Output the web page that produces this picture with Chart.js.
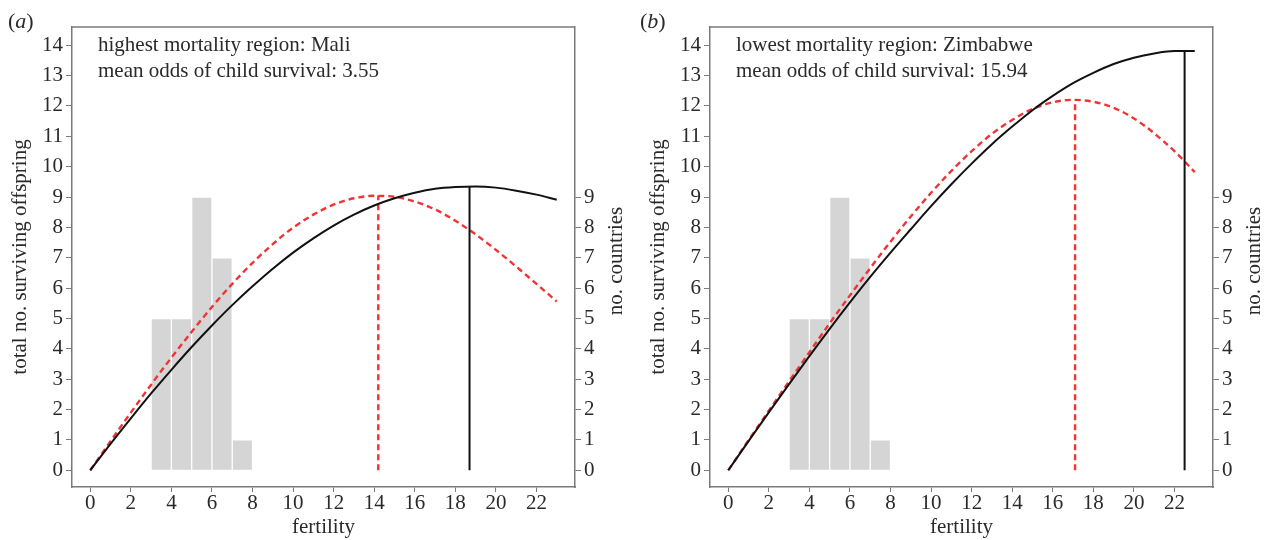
<!DOCTYPE html>
<html>
<head>
<meta charset="utf-8">
<script src="https://cdn.jsdelivr.net/npm/chart.js@4.4.1/dist/chart.umd.min.js"></script>
<style>
  html, body { margin: 0; padding: 0; background: #fff; }
  body { width: 1265px; height: 540px; position: relative; overflow: hidden; }
  .panel { position: absolute; top: 0; width: 627px; height: 540px; }
  #panelA { left: 0; }
  #panelB { left: 638px; }
</style>
</head>
<body>
<div class="panel" id="panelA"><canvas id="chartA"></canvas></div>
<div class="panel" id="panelB"><canvas id="chartB"></canvas></div>
<script>
// fertility grid shared by every curve
const fertility = [0, 1, 2, 3, 4, 5, 6, 7, 8, 9, 10, 11, 12, 13, 14, 15, 16, 17, 18, 19, 20, 21, 22, 23];

// (a) Mali - solid black and dashed red curves
const maliSolid = [0, 0.87, 1.71, 2.53, 3.31, 4.06, 4.77, 5.44, 6.06, 6.64, 7.17, 7.64, 8.06, 8.42, 8.72, 8.96, 9.14, 9.27, 9.33, 9.35, 9.31, 9.21, 9.08, 8.91];
const maliDashed = [0, 0.96, 1.90, 2.82, 3.71, 4.56, 5.38, 6.14, 6.83, 7.45, 7.99, 8.42, 8.75, 8.96, 9.04, 9.01, 8.85, 8.59, 8.22, 7.77, 7.26, 6.71, 6.14, 5.56];
const maliOptFertility = [18.7, 14.2];   // solid, dashed
const maliOptOffspring = [9.35, 9.05];

// (b) Zimbabwe
const zimSolid = [0, 0.96, 1.91, 2.84, 3.76, 4.66, 5.53, 6.37, 7.17, 7.94, 8.70, 9.42, 10.10, 10.74, 11.32, 11.86, 12.33, 12.75, 13.09, 13.38, 13.59, 13.73, 13.81, 13.81];
const zimDashed = [0, 0.99, 1.96, 2.93, 3.89, 4.84, 5.76, 6.66, 7.53, 8.36, 9.14, 9.86, 10.51, 11.08, 11.54, 11.90, 12.12, 12.20, 12.14, 11.94, 11.59, 11.10, 10.51, 9.82];
const zimOptFertility = [22.5, 17.1];
const zimOptOffspring = [13.82, 12.2];

// histogram of observed fertility (no. countries), same in both panels
const histBinCentres = [3.5, 4.5, 5.5, 6.5, 7.5];
const histCounts = [5, 5, 9, 7, 1];

const xTicks = [0, 2, 4, 6, 8, 10, 12, 14, 16, 18, 20, 22];
const yTicks = [0, 1, 2, 3, 4, 5, 6, 7, 8, 9, 10, 11, 12, 13, 14];
const countTicks = [0, 1, 2, 3, 4, 5, 6, 7, 8, 9];

const SERIF = '"Liberation Serif", "DejaVu Serif", serif';
const TXT = '#2a2a2a';
const AXIS = '#7a7a7a';
const RED = '#f03434';

const toPts = (xs, ys) => xs.map((x, i) => ({ x: x, y: ys[i] }));

const decorPlugin = {
  id: 'decor',
  afterDraw(chart) {
    const o = chart.options.plugins.decor;
    const ctx = chart.ctx;
    const a = chart.chartArea;
    ctx.save();
    // top edge of the frame
    ctx.strokeStyle = AXIS;
    ctx.lineWidth = 1.5;
    ctx.beginPath();
    ctx.moveTo(a.left, a.top);
    ctx.lineTo(a.right, a.top);
    ctx.stroke();
    // panel letter
    ctx.fillStyle = TXT;
    ctx.textBaseline = 'middle';
    ctx.textAlign = 'left';
    ctx.font = '22px ' + SERIF;
    let x = o.labelX;
    ctx.fillText('(', x, 22);
    x += ctx.measureText('(').width;
    ctx.font = 'italic 22px ' + SERIF;
    ctx.fillText(o.letter, x, 22);
    x += ctx.measureText(o.letter).width;
    ctx.font = '22px ' + SERIF;
    ctx.fillText(')', x, 22);
    // annotation
    ctx.font = '21px ' + SERIF;
    o.lines.forEach((t, i) => ctx.fillText(t, a.left + 26, 45 + i * 26));
    // right axis title, reading bottom to top
    ctx.translate(a.right + 41, (a.top + a.bottom) / 2 + 4);
    ctx.rotate(-Math.PI / 2);
    ctx.textAlign = 'center';
    ctx.fillText('no. countries', 0, 0);
    ctx.restore();
  }
};

function makeChart(id, letter, labelX, lines, solid, dashed, optX, optY) {
  const font = { family: SERIF, size: 21 };
  const tickFont = { family: SERIF, size: 21, lineHeight: 1 };
  new Chart(document.getElementById(id), {
    type: 'line',
    data: {
      datasets: [
        {
          data: toPts(fertility, solid),
          borderColor: '#111', borderWidth: 2, pointRadius: 0,
          cubicInterpolationMode: 'monotone', yAxisID: 'y', order: 1
        },
        {
          data: toPts(fertility, dashed),
          borderColor: RED, borderWidth: 2.4, borderDash: [6, 4], pointRadius: 0,
          cubicInterpolationMode: 'monotone', yAxisID: 'y', order: 2
        },
        {
          data: [{ x: optX[0], y: 0 }, { x: optX[0], y: optY[0] }],
          borderColor: '#111', borderWidth: 2, pointRadius: 0, yAxisID: 'y', order: 1
        },
        {
          data: [{ x: optX[1], y: 0 }, { x: optX[1], y: optY[1] }],
          borderColor: RED, borderWidth: 2.4, borderDash: [6, 4], pointRadius: 0, yAxisID: 'y', order: 2
        },
        {
          type: 'bar',
          data: toPts(histBinCentres, histCounts),
          backgroundColor: '#d5d5d5', borderColor: '#fff', borderWidth: 1,
          barPercentage: 1, categoryPercentage: 1, yAxisID: 'y2', order: 10
        }
      ]
    },
    options: {
      responsive: true,
      maintainAspectRatio: false,
      animation: false,
      layout: { padding: { top: 27, left: 0, right: 0, bottom: 0 } },
      plugins: {
        legend: { display: false },
        tooltip: { enabled: false },
        decor: { letter: letter, labelX: labelX, lines: lines }
      },
      scales: {
        x: {
          type: 'linear', min: -0.9, max: 23.9, offset: false,
          afterBuildTicks: s => { s.ticks = xTicks.map(v => ({ value: v })); },
          afterFit: s => { s.height = 53; },
          grid: { drawOnChartArea: false, tickLength: 5, color: AXIS, offset: false },
          border: { color: AXIS, width: 1.5 },
          ticks: { font: tickFont, color: TXT, padding: 1, maxRotation: 0, autoSkip: false },
          title: { display: true, text: 'fertility', font: font, color: TXT, padding: { top: 3, bottom: 0 } }
        },
        y: {
          type: 'linear', position: 'left', min: -0.55, max: 14.6,
          afterBuildTicks: s => { s.ticks = yTicks.map(v => ({ value: v })); },
          afterFit: s => { s.width = 72; },
          grid: { drawOnChartArea: false, tickLength: 6, color: AXIS },
          border: { color: AXIS, width: 1.5 },
          ticks: { font: tickFont, color: TXT, padding: 3, autoSkip: false },
          title: { display: true, text: 'total no. surviving offspring', font: font, color: TXT, padding: { top: 8, bottom: 0 } }
        },
        y2: {
          type: 'linear', position: 'right', min: -0.55, max: 14.6,
          afterBuildTicks: s => { s.ticks = countTicks.map(v => ({ value: v })); },
          afterFit: s => { s.width = 52; },
          grid: { drawOnChartArea: false, tickLength: 6, color: AXIS },
          border: { color: AXIS, width: 1.5 },
          ticks: { font: tickFont, color: TXT, padding: 3, autoSkip: false },
          title: { display: false }
        }
      }
    },
    plugins: [decorPlugin]
  });
}

makeChart('chartA', 'a', 8, ['highest mortality region: Mali', 'mean odds of child survival: 3.55'],
  maliSolid, maliDashed, maliOptFertility, maliOptOffspring);
makeChart('chartB', 'b', 2, ['lowest mortality region: Zimbabwe', 'mean odds of child survival: 15.94'],
  zimSolid, zimDashed, zimOptFertility, zimOptOffspring);
</script>
</body>
</html>
